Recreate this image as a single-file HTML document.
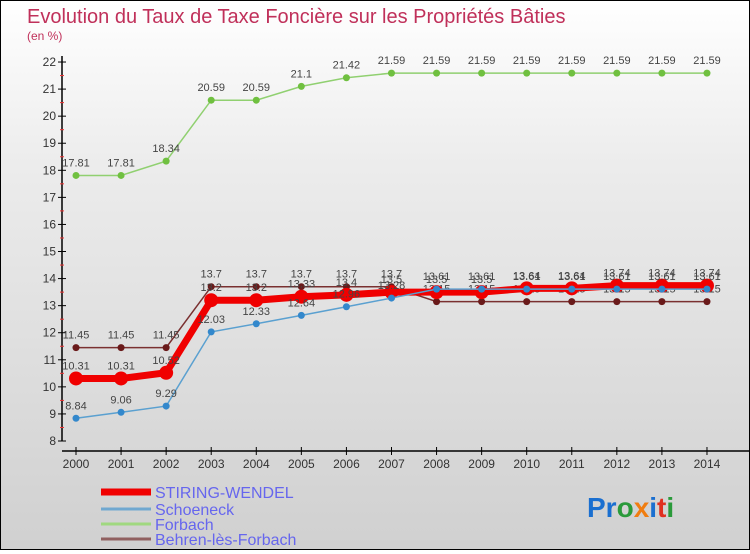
<!DOCTYPE html>
<html><head><meta charset="utf-8"><style>
body{margin:0;width:750px;height:550px;overflow:hidden;font-family:"Liberation Sans",sans-serif}
#wrap{position:relative;width:748px;height:548px;border:1px solid #000;background:linear-gradient(#fff 0%,#ececec 30%,#d0d0d0 100%)}
</style></head><body>
<div id="wrap">
<svg id="svg" width="748" height="548" xmlns="http://www.w3.org/2000/svg">
<text x="26" y="22" font-size="20" fill="#c0305a">Evolution du Taux de Taxe Foncière sur les Propriétés Bâties</text>
<text x="26" y="39" font-size="12" fill="#c0305a">(en %)</text>
<g id="axes"></g><g id="series"></g><g id="legend"></g>
<text x="586" y="516" font-size="28" font-weight="bold"><tspan fill="#1a6fd0">Pr</tspan><tspan fill="#2a9a3a">o</tspan><tspan fill="#f07d10">x</tspan><tspan fill="#1a6fd0">i</tspan><tspan fill="#e03020">t</tspan><tspan fill="#2a9a3a">i</tspan></text>
</svg></div>
<script>
const years=[2000,2001,2002,2003,2004,2005,2006,2007,2008,2009,2010,2011,2012,2013,2014];
const stiring=[10.31,10.31,10.52,13.2,13.2,13.33,13.4,13.5,13.5,13.5,13.64,13.64,13.74,13.74,13.74];
const schoeneck=[8.84,9.06,9.29,12.03,12.33,12.64,12.96,13.28,13.61,13.61,13.61,13.61,13.61,13.61,13.61];
const forbach=[17.81,17.81,18.34,20.59,20.59,21.1,21.42,21.59,21.59,21.59,21.59,21.59,21.59,21.59,21.59];
const behren=[11.45,11.45,11.45,13.7,13.7,13.7,13.7,13.7,13.15,13.15,13.15,13.15,13.15,13.15,13.15];
const yTicks=[8,9,10,11,12,13,14,15,16,17,18,19,20,21,22];
const names=["STIRING-WENDEL","Schoeneck","Forbach","Behren-lès-Forbach"];
const NS="http://www.w3.org/2000/svg";
const X=i=>75+i*45.07, Y=v=>440-(v-8)*27.07;
function mk(tag,at,parent){const e=document.createElementNS(NS,tag);for(const k in at)e.setAttribute(k,at[k]);parent.appendChild(e);return e;}
const ax=document.getElementById('axes');
let l=mk('line',{x1:61,y1:55,x2:61,y2:440,stroke:'#000','stroke-width':1.5},ax);


l=mk('line',{x1:61,y1:450,x2:748,y2:450,stroke:'#000','stroke-width':1.5},ax);


yTicks.forEach(v=>{
  mk('line',{x1:57,y1:Y(v),x2:65,y2:Y(v),stroke:'#000'},ax);
  if(v<22)mk('line',{x1:59,y1:Y(v+0.5),x2:63,y2:Y(v+0.5),stroke:'#e33'},ax);
  const t=mk('text',{x:55,y:Y(v)+4,'font-size':12,fill:'#333','text-anchor':'end'},ax);
  t.textContent=v;
  
  
});
years.forEach((y,i)=>{
  mk('line',{x1:X(i),y1:446,x2:X(i),y2:454,stroke:'#000'},ax);
  const t=mk('text',{x:X(i),y:467,'font-size':12,fill:'#333','text-anchor':'middle'},ax);
  t.textContent=y;
  
  
});
const sg=document.getElementById('series');
function series(data,color,w,r,dot,name,lblOff){
  const g=mk('g',{},sg);
  
  
  mk('polyline',{points:data.map((v,i)=>X(i)+','+Y(v)).join(' '),fill:'none',stroke:color,'stroke-width':w},g);
  data.forEach((v,i)=>{
    const c=mk('circle',{cx:X(i),cy:Y(v),r:r,fill:dot},g);
    
    
    const t=mk('text',{x:X(i),y:Y(v)+lblOff,'font-size':11,fill:'#444','text-anchor':'middle'},g);
    t.textContent=v;
    
    
  });
}
series(forbach,'#90d070',1.5,3.5,'#70c040','forbach',-9);
series(behren,'#7a3030',1.5,3.5,'#6a1a1a','behren',-9);
series(stiring,'#f00000',7,7,'#f00000','stiring',-9);
series(schoeneck,'#5aa0d0',1.5,3.5,'#3388cc','schoeneck',-9);
const lg=document.getElementById('legend');
const lc=['#f00000','#70a8d0','#a0d880','#906060'],lw=[7,3,3,3],ly=[491,508,523,538];
names.forEach((n,i)=>{
  const g=mk('g',{},lg);
  
  
  mk('line',{x1:100,y1:ly[i],x2:150,y2:ly[i],stroke:lc[i],'stroke-width':lw[i]},g);
  const t=mk('text',{x:154,y:ly[i]+6,'font-size':16,fill:'#6666ee'},g);
  t.textContent=n;
});
</script>
</body></html>
